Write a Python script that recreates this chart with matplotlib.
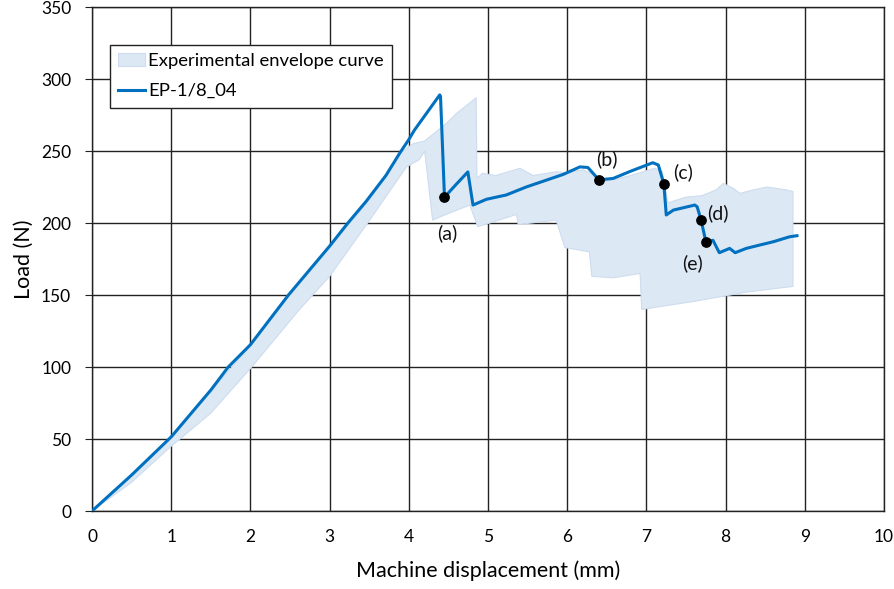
import matplotlib
matplotlib.use("Agg")
import matplotlib.pyplot as plt
import numpy as np

# main curve EP-1/8_04
disp = [0.0, 0.5, 1.0, 1.5, 1.72, 2.0, 2.48, 3.0, 3.23, 3.46, 3.71, 3.89, 4.0, 4.07, 4.39, 4.40,
        4.45, 4.60, 4.745, 4.81, 4.98, 5.23, 5.48, 5.72, 5.95, 6.16, 6.26, 6.40, 6.58, 6.80, 7.08,
        7.15, 7.22, 7.25, 7.34, 7.61, 7.64, 7.69, 7.75, 7.84, 7.92, 8.05, 8.12, 8.26, 8.45, 8.60,
        8.81, 8.90]
load = [0.0, 25.0, 51.5, 84.0, 100.0, 115.5, 150.0, 184.0, 200.0, 215.0, 233.0, 249.0, 258.0, 264.5,
        289.0, 288.0, 218.0, 227.0, 235.5, 212.5, 216.5, 219.5, 225.0, 229.5, 233.8, 239.0, 238.6,
        230.0, 231.0, 236.0, 241.9, 240.3, 227.0, 205.6, 209.0, 212.5, 211.3, 202.0, 187.0, 188.0,
        179.4, 182.4, 179.4, 182.4, 185.0, 187.0, 190.5, 191.2]

# experimental envelope (upper and lower bounds)
env_up_x = [0.0, 0.5, 1.0, 1.5, 2.0, 2.5, 3.0, 3.5, 3.9, 4.05, 4.2, 4.47, 4.60, 4.85, 4.86, 4.93,
            5.10, 5.40, 5.57, 5.86, 6.0, 6.2, 6.5, 6.8, 7.1, 7.2, 7.27, 7.5, 7.7, 7.88, 7.97, 8.10,
            8.18, 8.35, 8.52, 8.77, 8.85]
env_up_y = [0.0, 25.0, 51.0, 83.0, 115.0, 152.0, 183.0, 216.0, 249.0, 255.0, 257.0, 269.0, 276.0,
            287.0, 231.0, 234.5, 233.0, 238.0, 233.0, 235.6, 235.0, 237.0, 229.0, 233.0, 238.0,
            236.0, 214.0, 218.0, 219.0, 223.0, 227.5, 224.0, 220.6, 223.0, 225.0, 223.0, 221.8]
env_lo_x = [0.0, 0.5, 1.0, 1.5, 2.0, 2.62, 3.0, 3.48, 3.97, 4.13, 4.2, 4.3, 4.47, 4.77, 4.87, 5.02,
            5.36, 5.38, 5.86, 5.97, 6.28, 6.31, 6.58, 6.92, 6.94, 7.59, 8.26, 8.85]
env_lo_y = [0.0, 20.0, 45.0, 68.0, 99.0, 140.0, 163.0, 200.0, 239.0, 244.0, 250.0, 202.0, 206.0,
            212.5, 197.5, 200.0, 206.0, 199.0, 202.0, 183.0, 180.0, 163.0, 162.0, 165.0, 140.0,
            145.5, 152.0, 156.0]

# marked points (a)-(e)
pt_labels = ["(a)", "(b)", "(c)", "(d)", "(e)"]
pt_x = [4.45, 6.40, 7.22, 7.69, 7.75]
pt_y = [218.0, 230.0, 227.0, 202.0, 187.0]
lbl_x = [4.48, 6.50, 7.46, 7.90, 7.58]
lbl_y = [193.0, 244.0, 235.0, 207.0, 172.0]

plt.rcParams["font.family"] = ["Lato", "DejaVu Sans"]

fig = plt.figure(figsize=(8.95, 5.89), dpi=100)
ax = fig.add_axes([0.1028, 0.1324, 0.885, 0.8556])

poly_x = np.concatenate([env_up_x, env_lo_x[::-1]])
poly_y = np.concatenate([env_up_y, env_lo_y[::-1]])
ax.fill(poly_x, poly_y, facecolor="#dde8f5", edgecolor="#cddcee", linewidth=0.8,
        label="Experimental envelope curve", zorder=2)
ax.plot(disp, load, color="#0070c0", linewidth=2.2, label="EP-1/8_04", zorder=3)
ax.scatter(pt_x, pt_y, s=45, color="black", zorder=4)
for t, lx, ly in zip(pt_labels, lbl_x, lbl_y):
    ax.text(lx, ly, t, fontsize=14, ha="center", va="center", color="#111111", zorder=5)

ax.set_xlim(0, 10)
ax.set_ylim(0, 350)
ax.set_xticks(np.arange(0, 11, 1))
ax.set_yticks(np.arange(0, 351, 50))
ax.grid(True, color="#222222", linewidth=1.0, zorder=0)
ax.set_axisbelow(True)
for s in ax.spines.values():
    s.set_color("#222222")
    s.set_linewidth(1.0)
ax.tick_params(axis="x", length=0, pad=13, labelsize=12.5)
ax.tick_params(axis="y", length=5, pad=10, labelsize=12.5, color="#222222")
ax.set_xlabel("Machine displacement (mm)", fontsize=15.5, labelpad=11)
ax.set_ylabel("Load (N)", fontsize=15.5, labelpad=5)

leg = ax.legend(loc="upper left", bbox_to_anchor=(0.0227, 0.9246), borderaxespad=0,
                fontsize=13.3, frameon=True, fancybox=False, edgecolor="#222222", framealpha=1,
                borderpad=0.45, handlelength=1.45, handletextpad=0.15, labelspacing=0.75)
leg.get_frame().set_linewidth(1.0)

fig.savefig("out.png", dpi=100)
